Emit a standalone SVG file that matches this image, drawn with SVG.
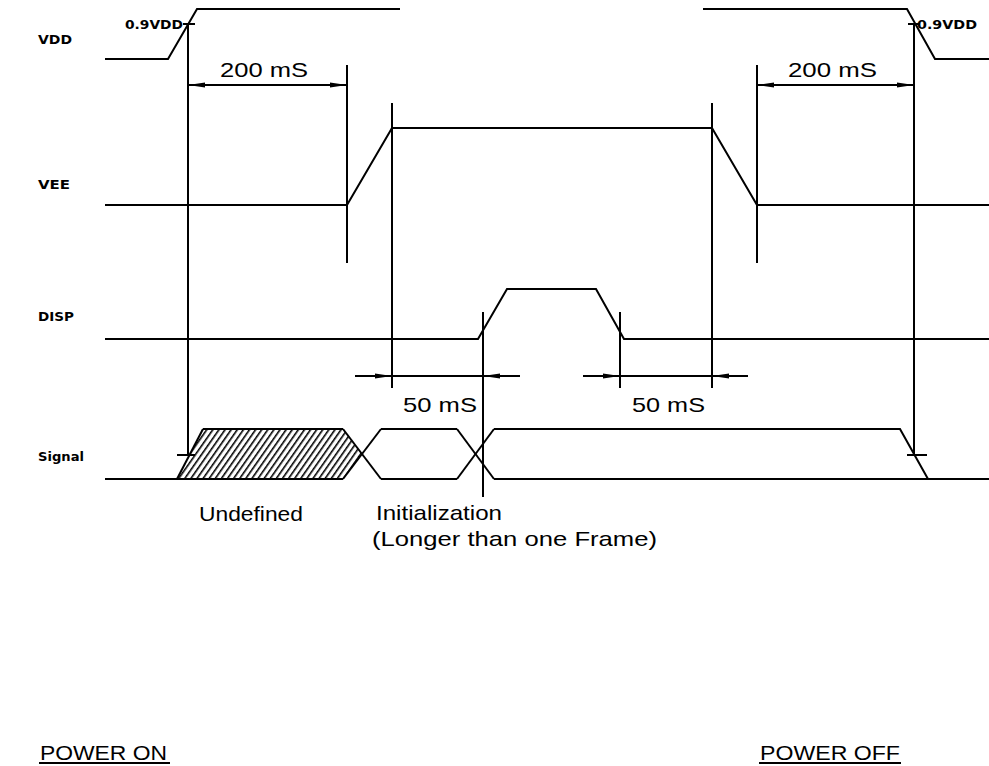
<svg xmlns="http://www.w3.org/2000/svg" width="989" height="766" viewBox="0 0 989 766">
<style>
.w{fill:none;stroke:#000;stroke-width:2;stroke-linecap:butt;stroke-linejoin:miter}
.g{fill:none;stroke:#000;stroke-width:2}
.lbl{font-family:"DejaVu Sans","Liberation Sans",sans-serif;font-size:13px;font-weight:bold;fill:#000}
.t{font-family:"Liberation Sans",Arial,sans-serif;font-size:21px;fill:#000}
</style>
<defs>
<marker id="ar" markerUnits="userSpaceOnUse" markerWidth="17" markerHeight="6" refX="17" refY="3" orient="auto-start-reverse" viewBox="0 0 17 6">
<path d="M0,0.4 L17,3 L0,5.6 z" fill="#000"/>
</marker>
<pattern id="hatch" patternUnits="userSpaceOnUse" width="5" height="10" patternTransform="rotate(35)">
<line x1="0.8" y1="-1" x2="0.8" y2="11" stroke="#000" stroke-width="1.6"/>
</pattern>
</defs>
<rect width="989" height="766" fill="#fff"/>

<g id="labels">
<text class="lbl" x="38" y="44" textLength="34" lengthAdjust="spacingAndGlyphs">VDD</text>
<text class="lbl" x="38" y="189" textLength="32" lengthAdjust="spacingAndGlyphs">VEE</text>
<text class="lbl" x="38" y="321" textLength="36" lengthAdjust="spacingAndGlyphs">DISP</text>
<text class="lbl" x="38" y="461" textLength="46" lengthAdjust="spacingAndGlyphs">Signal</text>
</g>

<g id="vdd">
<polyline class="w" points="105,59 168,59 197,9 400,9"/>
<polyline class="w" points="703,9 907,9 935,59 989,59"/>
<text class="lbl" x="125" y="29" textLength="58" lengthAdjust="spacingAndGlyphs">0.9VDD</text>
<text class="lbl" x="917" y="29" textLength="60" lengthAdjust="spacingAndGlyphs">0.9VDD</text>
</g>

<g id="vee">
<polyline class="w" points="105,205 347,205 392,128 712,128 757,205 989,205"/>
</g>

<g id="disp">
<polyline class="w" points="105,339 478,339 507,289 596,289 624,339 989,339"/>
</g>

<g id="signal">
<polygon points="177,479 203,429 343,429 362,454 343,479" fill="url(#hatch)"/>
<polyline class="w" points="105,479 343,479"/>
<line class="w" x1="177" y1="479" x2="203" y2="429"/>
<line class="w" x1="203" y1="429" x2="343" y2="429"/>
<line class="w" x1="343" y1="429" x2="381" y2="479"/>
<line class="w" x1="343" y1="479" x2="381" y2="429"/>
<line class="w" x1="381" y1="429" x2="457" y2="429"/>
<line class="w" x1="381" y1="479" x2="457" y2="479"/>
<line class="w" x1="457" y1="429" x2="494" y2="479"/>
<line class="w" x1="457" y1="479" x2="494" y2="429"/>
<polyline class="w" points="494,429 900,429 928,479"/>
<line class="w" x1="494" y1="479" x2="989" y2="479"/>
</g>

<g id="connectors">
<line class="g" x1="188" y1="24" x2="188" y2="455"/>
<line class="g" x1="177" y1="455" x2="195" y2="455"/>
<line class="g" x1="183" y1="24" x2="195" y2="24"/>
<line class="g" x1="914" y1="24" x2="914" y2="455"/>
<line class="g" x1="907" y1="455" x2="927" y2="455"/>
<line class="g" x1="908" y1="24" x2="920" y2="24"/>
<line class="g" x1="347" y1="65" x2="347" y2="263"/>
<line class="g" x1="757" y1="65" x2="757" y2="263"/>
<line class="g" x1="392" y1="103" x2="392" y2="388"/>
<line class="g" x1="712" y1="103" x2="712" y2="388"/>
<line class="g" x1="483" y1="312" x2="483" y2="497"/>
<line class="g" x1="620" y1="312" x2="620" y2="388"/>

<line class="g" x1="188" y1="85" x2="347" y2="85" marker-start="url(#ar)" marker-end="url(#ar)"/>
<line class="g" x1="757" y1="85" x2="914" y2="85" marker-start="url(#ar)" marker-end="url(#ar)"/>

<line class="g" x1="355" y1="376" x2="392" y2="376" marker-end="url(#ar)"/>
<line class="g" x1="392" y1="376" x2="483" y2="376"/>
<line class="g" x1="520" y1="376" x2="483" y2="376" marker-end="url(#ar)"/>

<line class="g" x1="583" y1="376" x2="620" y2="376" marker-end="url(#ar)"/>
<line class="g" x1="620" y1="376" x2="712" y2="376"/>
<line class="g" x1="748" y1="376" x2="712" y2="376" marker-end="url(#ar)"/>
</g>

<g id="dimension-text">
<text class="t" x="220" y="77" textLength="88" lengthAdjust="spacingAndGlyphs">200 mS</text>
<text class="t" x="788" y="77" textLength="89" lengthAdjust="spacingAndGlyphs">200 mS</text>
<text class="t" x="403" y="412" textLength="74" lengthAdjust="spacingAndGlyphs">50 mS</text>
<text class="t" x="632" y="412" textLength="73" lengthAdjust="spacingAndGlyphs">50 mS</text>
<text class="t" x="199" y="521" textLength="104" lengthAdjust="spacingAndGlyphs">Undefined</text>
<text class="t" x="376" y="520" textLength="126" lengthAdjust="spacingAndGlyphs">Initialization</text>
<text class="t" x="372" y="546" textLength="285" lengthAdjust="spacingAndGlyphs">(Longer than one Frame)</text>
</g>

<g id="titles">
<text class="t" x="40" y="760" textLength="127" lengthAdjust="spacingAndGlyphs">POWER ON</text>
<line class="g" x1="39" y1="763" x2="170" y2="763"/>
<text class="t" x="760" y="760" textLength="140" lengthAdjust="spacingAndGlyphs">POWER OFF</text>
<line class="g" x1="759" y1="763" x2="901" y2="763"/>
</g>
</svg>
